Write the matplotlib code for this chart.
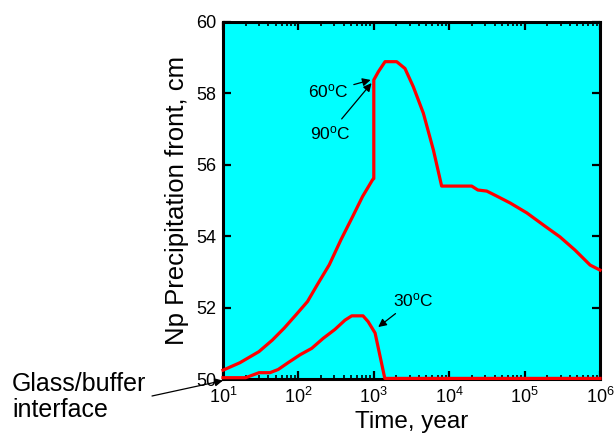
import matplotlib
matplotlib.use("Agg")
import matplotlib.pyplot as plt
from matplotlib.ticker import LogLocator, FixedLocator, NullLocator

plt.rcParams['font.family'] = ['Liberation Sans', 'DejaVu Sans']
plt.rcParams['mathtext.fontset'] = 'custom'
plt.rcParams['mathtext.rm'] = 'Liberation Sans'
plt.rcParams['mathtext.it'] = 'Liberation Sans:italic'
plt.rcParams['mathtext.bf'] = 'Liberation Sans:bold'

# 60 / 90 C front position (cm) against time (years)
t_hot = [10, 16.8, 30, 45, 65, 93, 132, 178, 257, 367, 525, 710, 965, 1000,
         1000, 1150, 1410, 2010, 2590, 3340, 4540, 6170, 7940, 19900,
         24000, 31500, 42700, 64000, 107000, 186000, 294000, 466000, 740000, 1e6]
x_hot = [50.26, 50.47, 50.78, 51.10, 51.44, 51.81, 52.18, 52.65, 53.21, 53.91,
         54.56, 55.12, 55.59, 55.62,
         58.38, 58.61, 58.89, 58.89, 58.70, 58.19, 57.45, 56.42, 55.41, 55.41,
         55.30, 55.27, 55.13, 54.94, 54.66, 54.29, 53.99, 53.62, 53.20, 53.06]

# 30 C front
t_cold = [10, 20, 30, 42, 54, 73, 105, 150, 213, 305, 415, 510, 720, 840,
          1040, 1400, 1e6]
x_cold = [50.05, 50.05, 50.19, 50.19, 50.28, 50.47, 50.69, 50.87, 51.15, 51.40,
          51.66, 51.78, 51.78, 51.62, 51.30, 50.03, 50.03]

fig = plt.figure(figsize=(6.15, 4.33), dpi=100)
ax = fig.add_axes([0.3626, 0.1236, 0.6130, 0.8256])
ax.set_facecolor('#00FFFF')

ax.plot(t_hot, x_hot, color='#FF0000', lw=2.3, clip_on=False, zorder=3)
ax.plot(t_cold, x_cold, color='#FF0000', lw=2.3, clip_on=False, zorder=3)

ax.set_xscale('log')
ax.set_xlim(10, 1e6)
ax.set_ylim(50, 60)
ax.xaxis.set_major_locator(LogLocator(base=10, numticks=10))
ax.xaxis.set_minor_locator(LogLocator(base=10, subs=range(2, 10), numticks=50))
ax.yaxis.set_major_locator(FixedLocator([50, 52, 54, 56, 58, 60]))
ax.yaxis.set_minor_locator(NullLocator())

for sp in ax.spines.values():
    sp.set_linewidth(2.2)
ax.tick_params(which='major', direction='in', length=6, width=1.6,
               top=True, right=True, labelsize=13, pad=5)
ax.tick_params(which='minor', direction='in', length=3, width=1.2,
               top=True, right=True)

ax.set_xlabel('Time, year', fontsize=17.5, labelpad=3)
ax.set_ylabel('Np Precipitation front, cm', fontsize=18.5, labelpad=5)

arrow = dict(arrowstyle='-|>', color='black', lw=0.9, mutation_scale=12)
ax.annotate('60$^{\\rm o}$C', xy=(985, 58.4), xytext=(460, 58.05),
            fontsize=12.5, ha='right', va='center', arrowprops=arrow)
ax.annotate('90$^{\\rm o}$C', xy=(985, 58.35), xytext=(263, 56.9),
            fontsize=12.5, ha='center', va='center', arrowprops=arrow)
ax.annotate('30$^{\\rm o}$C', xy=(1070, 51.42), xytext=(3300, 52.22),
            fontsize=12.5, ha='center', va='center', arrowprops=arrow)

fig.text(12, 36, 'Glass/buffer\ninterface', transform=None,
         fontsize=18, ha='left', va='center', linespacing=1.15)
ax.annotate('', xy=(10, 49.97), xytext=(152, 37), textcoords='figure pixels',
            arrowprops=dict(arrowstyle='-|>', color='black', lw=0.9,
                            mutation_scale=12, shrinkA=0, shrinkB=0),
            annotation_clip=False)

fig.savefig('out.png', dpi=100)
